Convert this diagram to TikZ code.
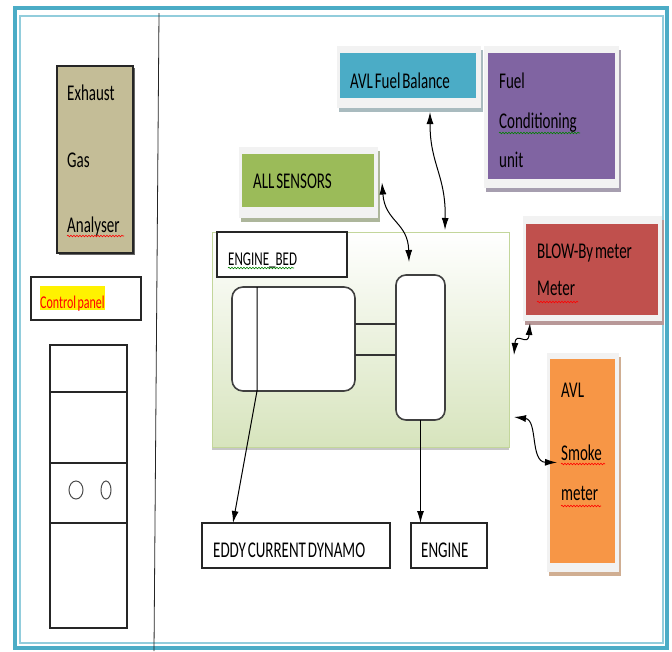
\documentclass[tikz,border=0pt]{standalone}
\usepackage{fontspec}
\usepackage{graphicx}
\setmainfont{Carlito}
\usetikzlibrary{arrows.meta,shadows,calc,decorations.pathmorphing}
\definecolor{teal1}{HTML}{4BACC6}
\definecolor{teal2}{HTML}{92CDDC}
\definecolor{tanc}{HTML}{C4BD97}
\definecolor{avlb}{HTML}{4BACC6}
\definecolor{purp}{HTML}{8064A2}
\definecolor{sgrn}{HTML}{9BBB59}
\definecolor{bred}{HTML}{C0504D}
\definecolor{orng}{HTML}{F79646}
\definecolor{bedg}{HTML}{D7E4BD}
\definecolor{bedline}{HTML}{C3D69B}
\definecolor{panelbg}{HTML}{F2F2F2}
\newcommand{\vs}[1]{\scalebox{1}[1.5]{\spaceskip=0.12em plus 0.02em #1}}
\begin{document}
\begin{tikzpicture}[x=1pt,y=-1pt,
  box/.style={draw=black!85, line width=1.2pt, fill=white, inner sep=0pt, outer sep=0pt, anchor=north west},
  rbox/.style={draw=black!75, line width=1.6pt, fill=white, rounded corners=11pt, inner sep=0pt, outer sep=0pt, anchor=north west},
  panel/.style={fill=panelbg, inner sep=0pt, outer sep=0pt, anchor=north west, drop shadow={shadow xshift=2pt, shadow yshift=-4pt, fill=#1, opacity=1}},
  swatch/.style={fill=#1, inner sep=0pt, outer sep=0pt, anchor=north west},
  txt/.style={anchor=base west, inner sep=0pt, font=\fontsize{15}{15}\selectfont, text=black},
  arr/.style={{Latex[length=12pt,width=7pt]}-{Latex[length=12pt,width=7pt]}, line width=1pt},
  oneway/.style={-{Latex[length=12pt,width=7pt]}, line width=1pt},
  squig/.style={decorate, decoration={snake, amplitude=0.8pt, segment length=3pt}, line width=0.6pt},
]
\useasboundingbox (0,0) rectangle (672,651);
\fill[white] (0,0) rectangle (672,651);
% outer frame
\draw[teal1, line width=3.5pt] (15,8) rectangle (667,648);
\draw[teal2, line width=1.8pt] (20,16) rectangle (663,643);
\draw[black!85, line width=0.8pt] (159,13) -- (154,651);

% exhaust gas analyser
\node[box, fill=tanc, minimum width=76pt, minimum height=187pt, drop shadow={shadow xshift=1.5pt, shadow yshift=-1.5pt, fill=black!60, opacity=1}] (exh) at (57,66) {};
\node[txt] (exh1) at (67,100) {\vs{Exhaust}};
\node[txt] (exh2) at (67,167) {\vs{Gas}};
\node[txt] (exh3) at (67,232) {\vs{Analyser}};
\draw[squig, red] (67,236) -- (124,236);

% control panel
\node[box, minimum width=110pt, minimum height=43pt] (cp) at (31,277) {};
\node[txt, font=\fontsize{12}{12}\selectfont, fill=yellow, text=red, text height=22pt, text depth=2pt] (cpt) at (40,308) {\vs{Control panel}};

% cabinet
\node[box, minimum width=77pt, minimum height=283pt] (cab) at (50,345) {};
\draw[black!85, line width=1.2pt] ([yshift=-47pt]cab.north west) -- ([yshift=-47pt]cab.north east);
\draw[black!85, line width=1.2pt] ([yshift=-118pt]cab.north west) -- ([yshift=-118pt]cab.north east);
\draw[black!85, line width=1.2pt] ([yshift=-178pt]cab.north west) -- ([yshift=-178pt]cab.north east);
\draw[black!70, line width=1pt] (76,490) ellipse (7pt and 9pt);
\draw[black!70, line width=1pt] (106,490) ellipse (5pt and 9pt);

% AVL fuel balance
\node[panel=avlb!30!gray!60, minimum width=144pt, minimum height=62pt] (fbF) at (337,46) {};
\node[swatch=avlb, minimum width=136pt, minimum height=45pt] (fb) at (340,53) {};
\node[txt] (fbt) at (350,88) {\vs{AVL Fuel Balance}};

% fuel conditioning unit
\node[panel=purp!40!gray!70, minimum width=135pt, minimum height=142pt] (fcF) at (484,46) {};
\node[swatch=purp, minimum width=127pt, minimum height=126pt] (fc) at (488,53) {};
\node[txt] (fct1) at (499,88) {\vs{Fuel}};
\node[txt] (fct2) at (499,128) {\vs{Conditioning}};
\node[txt] (fct3) at (499,167) {\vs{unit}};
\draw[squig, green!50!black] (499,133) -- (580,133);

% all sensors
\node[panel=sgrn!40!gray!70, minimum width=139pt, minimum height=71pt] (asF) at (239,147) {};
\node[swatch=sgrn, minimum width=132pt, minimum height=53pt] (as) at (242,154) {};
\node[txt] (ast) at (253,188) {\vs{ALL SENSORS}};

% engine bed
\node[anchor=north west, inner sep=0pt, outer sep=0pt, minimum width=297pt, minimum height=215pt, top color=white, bottom color=bedg, draw=bedline, line width=1pt, drop shadow={shadow xshift=0pt, shadow yshift=-3pt, fill=gray!45, opacity=1}] (bed) at (212,232) {};
\node[box, minimum width=130pt, minimum height=45pt] (ebl) at (217,232) {};
\node[txt, font=\fontsize{13}{13}\selectfont] (eblt) at (228,265) {\vs{ENGINE\_BED}};
\draw[squig, green!50!black] (228,268) -- (294,268);

\node[rbox, minimum width=123pt, minimum height=104pt] (dyn) at (232,287) {};
\node[rbox, rounded corners=10pt, minimum width=49pt, minimum height=145pt] (eng) at (396,275) {};
\path ([yshift=15pt]dyn.east) coordinate (cu1) ([yshift=-16pt]dyn.east) coordinate (cu2);
\draw[black!80, line width=1.3pt] (cu1) -- (cu1 -| eng.west);
\draw[black!80, line width=1.3pt] (cu2) -- (cu2 -| eng.west);

% bottom boxes
\node[box, minimum width=188pt, minimum height=45pt] (eddy) at (202,523) {};
\node[txt] (eddyt) at (213,557) {\vs{EDDY CURRENT DYNAMO}};
\node[box, minimum width=76pt, minimum height=45pt] (engb) at (411,523) {};
\node[txt] (engbt) at (421,557) {\vs{ENGINE}};

\draw[oneway] ([xshift=25pt]dyn.north west) -- ([xshift=25pt]dyn.south west) -- ([xshift=31pt]eddy.north west);
\draw[oneway] (eng.south) -- (eng.south |- engb.north);

% blow-by meter
\node[panel=bred!40!gray!70, minimum width=139pt, minimum height=105pt] (bbF) at (523,216) {};
\node[swatch=bred, minimum width=132pt, minimum height=91pt] (bb) at (526,224) {};
\node[txt] (bbt1) at (537,258) {\vs{BLOW-By meter}};
\node[txt] (bbt2) at (537,295) {\vs{Meter}};
\draw[squig, red] (537,302) -- (578,302);

% AVL smoke meter
\node[panel=orng!50!gray!70, minimum width=72pt, minimum height=219pt] (smF) at (547,353) {};
\node[swatch=orng, minimum width=65pt, minimum height=204pt] (sm) at (550,359) {};
\node[txt] (smt1) at (561,397) {\vs{AVL}};
\node[txt] (smt2) at (561,460) {\vs{Smoke}};
\node[txt] (smt3) at (561,500) {\vs{meter}};
\draw[squig, red] (561,464) -- (605,464);
\draw[squig, red] (561,506) -- (601,506);

% connectors
\draw[arr] ([xshift=21pt,yshift=-4pt]fbF.south) .. controls ([xshift=21pt,yshift=-57pt]fbF.south) and ([xshift=85.5pt,yshift=57pt]bed.north) .. ([xshift=84.5pt,yshift=2pt]bed.north);
\draw[arr] ([xshift=4pt]asF.east) .. controls ([xshift=7pt,yshift=-39.5pt]asF.east) and ([xshift=-12.5pt,yshift=53pt]eng.north) .. ([xshift=-11.5pt,yshift=13pt]eng.north);
\draw[arr] ([xshift=7pt,yshift=-2pt]bbF.south west) .. controls ([xshift=5pt,yshift=-27pt]bbF.south west) and ([xshift=7pt,yshift=9.5pt]bed.east) .. ([xshift=5pt,yshift=-15.5pt]bed.east);
\draw[arr] ([xshift=5pt,yshift=-77.5pt]bed.east) .. controls ([xshift=29pt,yshift=-80.5pt]bed.east) and ([xshift=-17pt,yshift=0.5pt]smF.west) .. ([xshift=10pt]smF.west);
\end{tikzpicture}
\end{document}
